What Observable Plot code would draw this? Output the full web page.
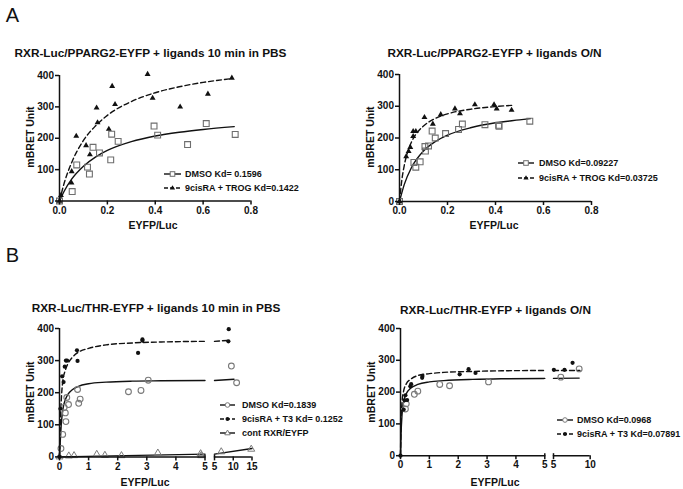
<!DOCTYPE html>
<html><head><meta charset="utf-8">
<script src="https://cdn.jsdelivr.net/npm/d3@7"></script>
<script src="https://cdn.jsdelivr.net/npm/@observablehq/plot@0.6"></script>
<style>
body{margin:0;background:#fff;}
#fig{position:relative;width:683px;height:489px;overflow:hidden;font-family:"Liberation Sans",Arial,Helvetica,sans-serif;color:#111;background:#fff;}
.abs{position:absolute;white-space:nowrap;line-height:1;}
.title{font-weight:bold;font-size:11.8px;transform:translate(-50%,-50%);}
.letter{font-size:20px;transform:translate(-50%,-50%);}
.xt{font-weight:bold;font-size:10.5px;transform:translate(-50%,-50%);}
.yt{font-weight:bold;font-size:10.5px;transform:translate(-50%,-50%) rotate(-90deg);}
.leg{font-weight:bold;font-size:9px;transform:translateY(-50%);}
</style></head><body><div id="fig"></div>
<script>
// ---------- data ----------
const Y_TICKS = [0, 100, 200, 300, 400];
const A_X_TICKS = [0, 0.2, 0.4, 0.6, 0.8];
const B_X_TICKS_1 = [0, 1, 2, 3, 4, 5];
const B1_X_TICKS_2 = [5, 10, 15];
const B2_X_TICKS_2 = [5, 10];

const TITLES = ["RXR-Luc/PPARG2-EYFP + ligands 10 min in PBS", "RXR-Luc/PPARG2-EYFP + ligands O/N",
                "RXR-Luc/THR-EYFP + ligands 10 min in PBS", "RXR-Luc/THR-EYFP + ligands O/N"];
const X_TITLE = "EYFP/Luc";
const Y_TITLE = "mBRET Unit";
const A1_LEGEND = ["DMSO Kd= 0.1596", "9cisRA + TROG Kd=0.1422"];
const A2_LEGEND = ["DMSO Kd=0.09227", "9cisRA + TROG Kd=0.03725"];
const B1_LEGEND = ["DMSO Kd=0.1839", "9cisRA + T3 Kd= 0.1252", "cont RXR/EYFP"];
const B2_LEGEND = ["DMSO Kd=0.0968", "9cisRA + T3 Kd=0.07891"];

// Panel A, 10 min in PBS
const A1_DMSO = [[0,0],[0.053,30],[0.072,115],[0.117,108],[0.125,86],[0.14,171],[0.167,153],[0.214,131],[0.218,213],[0.245,190],[0.395,239],[0.41,210],[0.535,180],[0.613,247],[0.734,212]];
const A1_LIG = [[0,0],[0.006,18],[0.05,58],[0.051,94],[0.07,207],[0.111,177],[0.127,148],[0.155,297],[0.159,250],[0.206,229],[0.22,366],[0.232,308],[0.368,404],[0.389,328],[0.504,300],[0.62,341],[0.72,392]];
const A1_DMSO_FIT = [[0,0],[0.02,32],[0.05,69],[0.1,111],[0.15,140],[0.2,161],[0.3,189],[0.4,207],[0.5,219],[0.6,228],[0.73,237]];
const A1_LIG_FIT = [[0,0],[0.02,58],[0.05,121],[0.1,193],[0.15,239],[0.2,273],[0.3,317],[0.4,345],[0.5,364],[0.6,378],[0.72,390]];

// Panel A, O/N
const A2_DMSO = [[0,0],[0.06,123],[0.068,108],[0.086,125],[0.106,173],[0.108,159],[0.121,175],[0.136,222],[0.149,200],[0.192,214],[0.246,227],[0.262,244],[0.356,242],[0.413,240],[0.415,237],[0.543,253]];
const A2_LIG = [[0,0],[0.028,142],[0.038,158],[0.045,171],[0.057,205],[0.057,221],[0.068,221],[0.104,265],[0.139,244],[0.172,274],[0.231,292],[0.252,277],[0.314,305],[0.394,305],[0.405,292],[0.467,288]];
const A2_DMSO_FIT = [[0,0],[0.02,54],[0.05,107],[0.1,159],[0.15,189],[0.2,209],[0.3,233],[0.4,248],[0.5,257],[0.545,261]];
const A2_LIG_FIT = [[0,0],[0.01,69],[0.02,114],[0.04,169],[0.06,202],[0.08,223],[0.1,238],[0.15,262],[0.2,276],[0.3,291],[0.4,299],[0.47,303]];

// Panel B, 10 min in PBS (broken x axis 0-5 | 5-15)
const B1_DMSO = [[0.05,26],[0.11,70],[0.16,154],[0.2,137],[0.22,110],[0.25,185],[0.31,163],[0.62,210],[0.66,167],[0.71,180],[2.37,203],[2.8,207],[3.05,239],[9.5,283],[10.9,231]];
const B1_LIG = [[0,0],[0.03,150],[0.09,251],[0.14,233],[0.18,281],[0.22,300],[0.26,300],[0.6,332],[0.62,299],[2.7,324],[2.85,366],[2.85,362],[8.8,398],[8.7,360]];
const B1_CONT = [[0,0],[0.32,3],[0.5,4],[1.28,8],[1.56,5],[2.13,4],[3.38,12],[4.85,10],[4.87,4],[6.8,16],[14.8,24]];
const B1_DMSO_FIT = [[0,0],[0.03,55],[0.06,100],[0.11,145],[0.2,178],[0.3,196],[0.45,210],[0.65,220],[1,228],[1.6,233],[2.5,236],[3.5,237],[5,238],[10.2,242]];
const B1_LIG_FIT = [[0,0],[0.03,110],[0.06,175],[0.11,234],[0.2,270],[0.3,292],[0.45,311],[0.65,326],[1,338],[1.6,349],[2.5,355],[3.5,358],[5,360],[8.8,363]];
const B1_CONT_FIT = [[0,0],[5,8.7],[15,26]];

// Panel B, O/N (broken x axis 0-5 | 5-10)
const B2_DMSO = [[0.17,147],[0.2,163],[0.48,193],[0.6,203],[1.36,224],[1.7,220],[3.05,232],[6.0,247],[8.5,273]];
const B2_LIG = [[0,0],[0.11,145],[0.14,174],[0.17,190],[0.23,175],[0.34,218],[0.37,225],[0.75,245],[0.76,251],[2.05,256],[2.36,272],[2.6,260],[5.05,270],[6.5,270],[7.6,292]];
const B2_DMSO_FIT = [[0,0],[0.02,70],[0.05,125],[0.1,165],[0.2,195],[0.35,212],[0.6,224],[1,232],[1.5,236],[2.5,240],[3.5,242],[5,243],[8.5,244]];
const B2_LIG_FIT = [[0,0],[0.02,110],[0.05,165],[0.1,200],[0.2,226],[0.35,240],[0.6,252],[1,258],[1.5,262],[2.5,265],[3.5,267],[5,268],[8.6,268]];

// ---------- drawing ----------
const FONT = '"Liberation Sans", Arial, Helvetica, sans-serif';
const INK = "#111";
const GREY = "#6e6e6e";
const fig = document.getElementById("fig");
const xy = p => p.map(([x, y]) => ({x, y}));
const inSeg = (p, lo, hi) => xy(p).filter(d => d.x >= lo && d.x <= hi);

function place(el, x, y, cls, text) {
  const d = document.createElement("div");
  d.className = "abs " + cls;
  d.style.left = x + "px"; d.style.top = y + "px";
  d.textContent = text;
  fig.appendChild(d);
  return d;
}

function panel(o) {
  const ml = 48, mr = 14, mt = 8, mb = 20;
  const w = o.fx1 - o.fx0 + ml + mr, h = o.fy0 - o.fy1 + mt + mb;
  const marks = [];
  marks.push(...o.marks);
  marks.push(Plot.ruleY([0], {stroke: INK, strokeWidth: 1.5}));
  if (o.yAxis) {
    marks.push(Plot.ruleX([o.xDomain[0]], {stroke: INK, strokeWidth: 1.5}));
    marks.push(Plot.axisY({ticks: Y_TICKS, tickSize: 4, tickPadding: 1.5, strokeWidth: 1.5, label: null, fontSize: 10, fontWeight: "bold", fill: INK, stroke: INK}));
  }
  marks.push(Plot.axisX({ticks: o.xTicks, tickFormat: o.fmt, tickSize: 4, tickPadding: 1.5, strokeWidth: 1.5, label: null, fontSize: 10, fontWeight: "bold", fill: INK, stroke: INK}));
  if (o.caps) marks.push(Plot.axisX({ticks: o.caps, anchor: "top", frameAnchor: "bottom", tickSize: 3, strokeWidth: 1.5, fill: "none", stroke: INK, label: null}));
  const svg = Plot.plot({
    width: w, height: h, marginLeft: ml, marginRight: mr, marginTop: mt, marginBottom: mb,
    x: {domain: o.xDomain}, y: o.yAxis ? {domain: [0, 400]} : {domain: [0, 400], axis: null},
    style: {fontFamily: FONT, fontSize: "10px", fontWeight: "bold", background: "transparent", overflow: "visible", color: INK},
    marks
  });
  svg.style.position = "absolute";
  svg.style.left = (o.fx0 - ml) + "px";
  svg.style.top = (o.fy1 - mt) + "px";
  fig.appendChild(svg);
}

const lineOpt = (dash) => ({x: "x", y: "y", stroke: INK, strokeWidth: 1.4, curve: "monotone-x", strokeDasharray: dash ? "5,3" : null});
const sq = {x: "x", y: "y", symbol: "square", r: 3.3, stroke: GREY, strokeWidth: 1.1, fill: "none"};
const tri = {x: "x", y: "y", symbol: "triangle", r: 2.2, fill: INK, stroke: "none"};
const ocirc = {x: "x", y: "y", r: 2.9, stroke: "#7a7a7a", strokeWidth: 1.1, fill: "none"};
const fdot = {x: "x", y: "y", r: 2.1, fill: INK, stroke: "none"};
const otri = {x: "x", y: "y", symbol: "triangle", r: 2.6, stroke: "#7a7a7a", strokeWidth: 1, fill: "none"};

// A1
panel({fx0: 58.5, fx1: 250, fy0: 200.5, fy1: 75, xDomain: [0, 0.8], xTicks: A_X_TICKS, fmt: ".1f", yAxis: true,
  marks: [Plot.line(xy(A1_DMSO_FIT), lineOpt(false)), Plot.line(xy(A1_LIG_FIT), lineOpt(true)),
          Plot.dot(xy(A1_DMSO), sq), Plot.dot(xy(A1_LIG), tri)]});
// A2
panel({fx0: 399, fx1: 591, fy0: 200.5, fy1: 73.5, xDomain: [0, 0.8], xTicks: A_X_TICKS, fmt: ".1f", yAxis: true,
  marks: [Plot.line(xy(A2_DMSO_FIT), lineOpt(false)), Plot.line(xy(A2_LIG_FIT), lineOpt(true)),
          Plot.dot(xy(A2_DMSO), sq), Plot.dot(xy(A2_LIG), tri)]});
// B1 segment 1 and 2
panel({fx0: 58.5, fx1: 204, fy0: 456.7, fy1: 328.3, xDomain: [0, 5], xTicks: B_X_TICKS_1, fmt: "d", yAxis: true, caps: [5],
  marks: [Plot.line(inSeg(B1_CONT_FIT, 0, 5), lineOpt(false)), Plot.line(inSeg(B1_DMSO_FIT, 0, 5), lineOpt(false)), Plot.line(inSeg(B1_LIG_FIT, 0, 5), lineOpt(true)),
          Plot.dot(inSeg(B1_CONT, 0, 5), otri), Plot.dot(inSeg(B1_DMSO, 0, 5), ocirc), Plot.dot(inSeg(B1_LIG, 0, 5), fdot)]});
panel({fx0: 214, fx1: 251.5, fy0: 456.7, fy1: 328.3, xDomain: [5, 15], xTicks: B1_X_TICKS_2, fmt: "d", yAxis: false, caps: [5],
  marks: [Plot.line(inSeg(B1_CONT_FIT, 5, 15), lineOpt(false)), Plot.line(inSeg(B1_DMSO_FIT, 5, 15), lineOpt(false)), Plot.line(inSeg(B1_LIG_FIT, 5, 15), lineOpt(true)),
          Plot.dot(inSeg(B1_CONT, 5.01, 15), otri), Plot.dot(inSeg(B1_DMSO, 5.01, 15), ocirc), Plot.dot(inSeg(B1_LIG, 5.01, 15), fdot)]});
// B2 segment 1 and 2
panel({fx0: 400, fx1: 544.3, fy0: 455.5, fy1: 328.3, xDomain: [0, 5], xTicks: B_X_TICKS_1, fmt: "d", yAxis: true, caps: [5],
  marks: [Plot.line(inSeg(B2_DMSO_FIT, 0, 5), lineOpt(false)), Plot.line(inSeg(B2_LIG_FIT, 0, 5), lineOpt(true)),
          Plot.dot(inSeg(B2_DMSO, 0, 5), ocirc), Plot.dot(inSeg(B2_LIG, 0, 5), fdot)]});
panel({fx0: 553.3, fx1: 590, fy0: 455.5, fy1: 328.3, xDomain: [5, 10], xTicks: B2_X_TICKS_2, fmt: "d", yAxis: false, caps: [5],
  marks: [Plot.line(inSeg(B2_DMSO_FIT, 5, 10), lineOpt(false)), Plot.line(inSeg(B2_LIG_FIT, 5, 10), lineOpt(true)),
          Plot.dot(inSeg(B2_DMSO, 5.01, 10), ocirc), Plot.dot(inSeg(B2_LIG, 5.01, 10), fdot)]});

// texts
place(fig, 12.5, 14.5, "letter", "A");
place(fig, 12.5, 254.5, "letter", "B");
place(fig, 150.5, 54, "title", TITLES[0]);
place(fig, 494.5, 54, "title", TITLES[1]);
place(fig, 156, 309, "title", TITLES[2]);
place(fig, 495.5, 310.5, "title", TITLES[3]);
place(fig, 153, 225, "xt", X_TITLE);
place(fig, 494, 225, "xt", X_TITLE);
place(fig, 145, 482, "xt", X_TITLE);
place(fig, 495, 482, "xt", X_TITLE);
place(fig, 30, 137, "yt", Y_TITLE);
place(fig, 370, 137, "yt", Y_TITLE);
place(fig, 30, 392, "yt", Y_TITLE);
place(fig, 371, 392, "yt", Y_TITLE);

// legends
function glyph(x0, x1, y, dash, marker) {
  const w = x1 - x0;
  const s = d3.create("svg").attr("width", w).attr("height", 10)
    .style("position", "absolute").style("left", x0 + "px").style("top", (y - 5) + "px").style("overflow", "visible");
  s.append("line").attr("x1", 0).attr("x2", w).attr("y1", 5).attr("y2", 5)
    .attr("stroke", INK).attr("stroke-width", 1.4).attr("stroke-dasharray", dash ? "4,2" : null);
  const c = w / 2;
  if (marker === "square") s.append("rect").attr("x", c - 2.3).attr("y", 2.7).attr("width", 4.6).attr("height", 4.6).attr("fill", "white").attr("stroke", GREY).attr("stroke-width", 1);
  if (marker === "tri") s.append("path").attr("d", `M${c},2.2L${c + 2.6},6.6L${c - 2.6},6.6Z`).attr("fill", INK);
  if (marker === "circle") s.append("circle").attr("cx", c).attr("cy", 5).attr("r", 2.3).attr("fill", "white").attr("stroke", "#7a7a7a").attr("stroke-width", 1);
  if (marker === "dot") s.append("circle").attr("cx", c).attr("cy", 5).attr("r", 2).attr("fill", INK);
  if (marker === "otri") s.append("path").attr("d", `M${c},2L${c + 2.7},6.8L${c - 2.7},6.8Z`).attr("fill", "white").attr("stroke", "#7a7a7a").attr("stroke-width", 1);
  fig.appendChild(s.node());
}
function legend(x0, x1, tx, ys, labels, styles) {
  labels.forEach((lab, i) => {
    glyph(x0, x1, ys[i], styles[i][0], styles[i][1]);
    place(fig, tx, ys[i], "leg", lab);
  });
}
legend(164, 181, 185, [174, 188], A1_LEGEND, [[false, "square"], [true, "tri"]]);
legend(518, 534, 539, [163.3, 178.3], A2_LEGEND, [[false, "square"], [true, "tri"]]);
legend(220, 235, 242, [405, 419, 433], B1_LEGEND, [[false, "circle"], [true, "dot"], [false, "otri"]]);
legend(557, 573, 577, [420, 433.5], B2_LEGEND, [[false, "circle"], [true, "dot"]]);
</script></body></html>
